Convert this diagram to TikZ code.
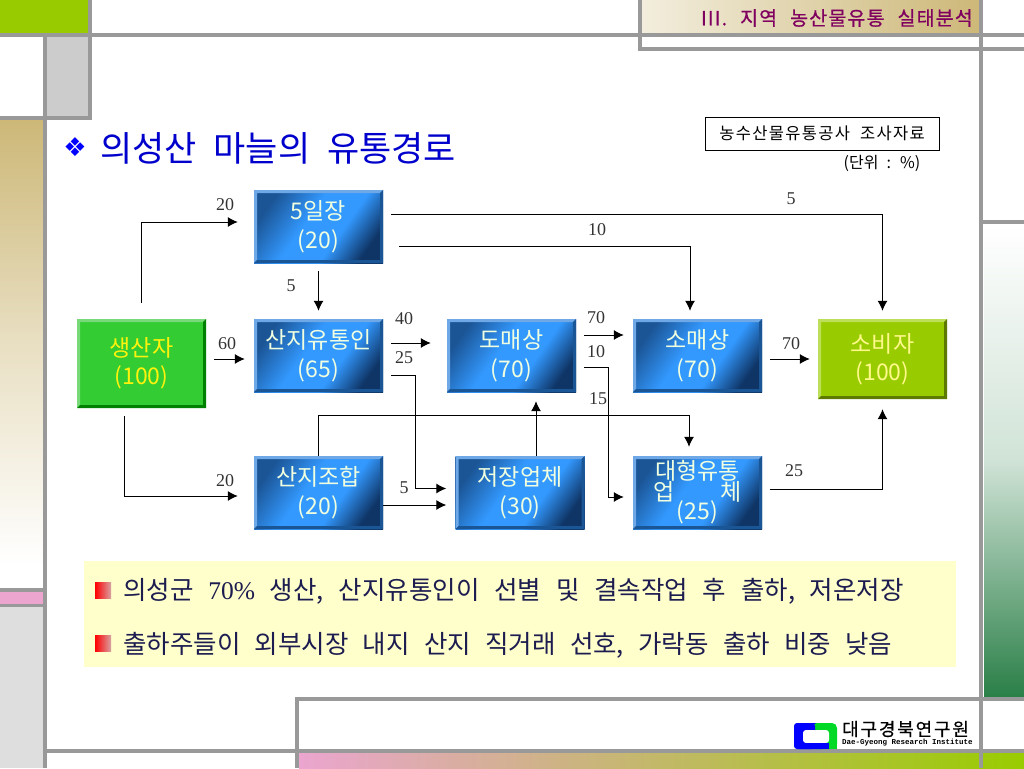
\documentclass[tikz,border=0pt]{standalone}
\usepackage{fontspec}
\setmainfont{Noto Sans CJK KR}
\newfontfamily\numfont{Liberation Serif}
\newfontfamily\glyphfont{DejaVu Sans}
\newfontfamily\instfont{Liberation Mono}
\usetikzlibrary{arrows.meta}
\definecolor{framegray}{HTML}{999999}
\definecolor{leafgreen}{HTML}{99CC00}
\definecolor{tanstrip}{HTML}{CDB878}
\definecolor{pinkstrip}{HTML}{EBA5CF}
\definecolor{forest}{HTML}{2A7F47}
\definecolor{notepad}{HTML}{FFFFCC}
\definecolor{notetext}{HTML}{1C1C50}
\definecolor{stagetl}{HTML}{1B5596}
\definecolor{stagemid}{HTML}{3399FF}
\definecolor{stagebr}{HTML}{0F3566}
\definecolor{stagelight}{HTML}{6FA8E6}
\definecolor{stagedark}{HTML}{1A5596}
\definecolor{stagetext}{HTML}{EFFFE0}
\pgfdeclarehorizontalshading{stageshade}{100bp}{color(0bp)=(stagetl); color(25bp)=(stagetl); color(44bp)=(stagemid); color(60bp)=(stagemid); color(75bp)=(stagebr); color(100bp)=(stagebr)}
\tikzset{
  frameline/.style={draw=framegray,line width=3.4pt},
  flow/.style={draw=black,line width=1pt,-{Latex[length=10pt,width=10pt]}},
  numlabel/.style={font=\numfont\fontsize{18}{18}\selectfont,text=black!80,inner sep=0pt,yshift=-1pt},
  bevel/.style 2 args={path picture={
    \def\nw{path picture bounding box.north west}\def\ne{path picture bounding box.north east}
    \def\sw{path picture bounding box.south west}\def\se{path picture bounding box.south east}
    \fill[#1] (\sw) -- (\nw) -- (\ne) -- ([shift={(-3pt,-3pt)}]\ne) -- ([shift={(3pt,-3pt)}]\nw) -- ([shift={(3pt,3pt)}]\sw) -- cycle;
    \fill[#2] (\sw) -- (\se) -- (\ne) -- ([shift={(-3pt,-3pt)}]\ne) -- ([shift={(-3pt,3pt)}]\se) -- ([shift={(3pt,3pt)}]\sw) -- cycle;}},
  stagebox/.style={minimum width=129pt,minimum height=73pt,inner sep=0pt,align=center,
    font=\fontsize{23}{29}\selectfont,text=stagetext,execute at begin node={\rule{0pt}{28pt}},
    shade,shading=stageshade,shading angle=-35,bevel={stagelight}{stagedark}},
  endbox/.style={minimum width=129pt,inner sep=0pt,align=center,font=\fontsize{23}{28}\selectfont,
    execute at begin node={\rule{0pt}{28pt}}},
}
\begin{document}
\begin{tikzpicture}[x=1pt,y=-1pt]
\useasboundingbox (0,0) rectangle (1024,768);
% frame
\fill[leafgreen] (0,0) rectangle (88,33);
\fill[black!20] (47,37) rectangle (88,116);
\shade[top color=tanstrip,bottom color=white,middle color=tanstrip!45!white] (0,120) rectangle (43,566);
\fill[pinkstrip] (0,592) rectangle (43,604);
\fill[black!13] (0,607) rectangle (43,768);
\shade[top color=white,bottom color=forest,middle color=forest!22!white] (984,224) rectangle (1024,697);
\shade[left color=pinkstrip,right color=leafgreen] (299,753) rectangle (1024,768);
\shade[left color=tanstrip!25!white,right color=tanstrip] (642,0) rectangle (979,33);
\draw[frameline] (0,35) -- (1024,35);
\draw[frameline] (90,0) -- (90,118) -- (0,118);
\draw[frameline] (45,35) -- (45,768);
\draw[frameline] (0,590) -- (45,590) (0,605.5) -- (45,605.5);
\draw[frameline] (640,0) -- (640,49) -- (1024,49);
\draw[frameline] (981,0) -- (981,768);
\draw[frameline] (981,222) -- (1024,222);
\draw[frameline] (1024,699) -- (297,699) -- (297,768);
\draw[frameline] (45,751) -- (1024,751);
\node[anchor=east,inner sep=0pt,text={rgb,255:red,128;green,0;blue,96}] (headline) at (973,18)
  {\fontsize{19.5}{19.5}\selectfont\addfontfeature{LetterSpace=6,FakeBold=0.6}\spaceskip=13pt III. 지역 농산물유통 실태분석};
% title and source
\node[inner sep=0pt,text=blue] (titlemark) at (75,147) {\glyphfont\fontsize{26}{26}\selectfont ❖};
\node[anchor=west,inner sep=0pt,text=blue!80!black] (title) at (100,148) {\fontsize{35}{35}\selectfont\spaceskip=17pt 의성산 마늘의 유통경로};
\node[draw=black,line width=.8pt,minimum width=234pt,minimum height=33pt,inner sep=0pt] (source) at (822,133.5)
  {\fontsize{16.5}{16.5}\selectfont\addfontfeature{LetterSpace=8}\spaceskip=10pt 농수산물유통공사 조사자료};
\node[inner sep=0pt] (unit) at (882,163) {\fontsize{16}{16}\selectfont\spaceskip=8pt (단위 : \%)};
% stages
\node[stagebox] (iljang) at (318.5,226.5) {5일장\\(20)};
\node[stagebox] (sanji) at (318.5,355.5) {산지유통인\\(65)};
\node[stagebox] (domae) at (511.5,355.5) {도매상\\(70)};
\node[stagebox] (somae) at (697.5,355.5) {소매상\\(70)};
\node[stagebox] (johap) at (318.5,492.5) {산지조합\\(20)};
\node[stagebox] (jeojang) at (520,492.5) {저장업체\\(30)};
\node[stagebox,font=\fontsize{23}{21}\selectfont] (daehyeong) at (697.5,492.5) {대형유통\\\makebox[88pt][s]{업\hfill 체}\\[-2pt](25)};
\node[endbox,minimum height=89pt,fill={rgb,255:red,51;green,204;blue,51},text=yellow!95!white,bevel={green!45!white!85!black}{green!50!black}] (saengsan) at (141.5,363.5) {생산자\\(100)};
\node[endbox,minimum height=80pt,fill=leafgreen,text=yellow!45!white,bevel={leafgreen!65!white}{leafgreen!60!black}] (sobija) at (882.5,359) {소비자\\(100)};
% flows
\draw[flow] ([shift={(0pt,16pt)}]saengsan.north) |- ([shift={(-16pt,4.5pt)}]iljang.west);
\draw[flow] ([shift={(-17pt,-8pt)}]saengsan.south) |- ([shift={(-16pt,-3.5pt)}]johap.west);
\draw[flow] ([shift={(8pt,4.5pt)}]saengsan.east) -- ([shift={(-9pt,-3.5pt)}]sanji.west);
\draw[flow,shorten <=8pt,shorten >=8pt] (iljang.south) -- (sanji.north);
\draw[flow] ([shift={(8pt,12.5pt)}]iljang.east) -| ([shift={(0pt,8pt)}]sobija.north);
\draw[flow] ([shift={(16pt,-19.5pt)}]iljang.east) -| ([shift={(-7.5pt,8pt)}]somae.north);
\draw[flow] ([shift={(8pt,12.5pt)}]sanji.east) -- ([shift={(-16pt,12.5pt)}]domae.west);
\draw[flow] ([shift={(8pt,-20pt)}]sanji.east) -- ++(24,0) |- ([shift={(-9pt,4pt)}]jeojang.west);
\draw[flow] ([shift={(0pt,-12.5pt)}]johap.east) -- ([shift={(-9pt,-12.5pt)}]jeojang.west);
\draw[flow] (johap.north) -- ++(0,-40) -| ([shift={(-8.5pt,9pt)}]daehyeong.north);
\draw[flow] ([shift={(16pt,0pt)}]jeojang.north) -- ([shift={(24.5pt,-9pt)}]domae.south);
\draw[flow] ([shift={(8pt,20.5pt)}]domae.east) -- ([shift={(-9pt,20.5pt)}]somae.west);
\draw[flow] ([shift={(8pt,-11.5pt)}]domae.east) -- ++(24,0) |- ([shift={(-9pt,-4.5pt)}]daehyeong.west);
\draw[flow] ([shift={(8pt,-3.5pt)}]somae.east) -- ([shift={(-8pt,0pt)}]sobija.west);
\draw[flow] ([shift={(8pt,3.5pt)}]daehyeong.east) -| ([shift={(0pt,-10pt)}]sobija.south);
% flow shares
\node[numlabel] (n1) at (225,204) {20};
\node[numlabel] (n2) at (291,285) {5};
\node[numlabel] (n3) at (227,343) {60};
\node[numlabel] (n4) at (404,318) {40};
\node[numlabel] (n5) at (404,357) {25};
\node[numlabel] (n6) at (596,317) {70};
\node[numlabel] (n7) at (596,351) {10};
\node[numlabel] (n8) at (598,398) {15};
\node[numlabel] (n9) at (791,343) {70};
\node[numlabel] (n10) at (794,470) {25};
\node[numlabel] (n11) at (225,480) {20};
\node[numlabel] (n12) at (404,487) {5};
\node[numlabel] (n13) at (791,198) {5};
\node[numlabel] (n14) at (597,229) {10};
% notes
\fill[notepad] (84,561) rectangle (956,667);
\shade[left color=red,right color=red!25!white!85!black] (95,582) rectangle (111,598);
\shade[left color=red,right color=red!25!white!85!black] (95,635) rectangle (111,651);
\node[anchor=west,inner sep=0pt,text=notetext] (note1) at (123,591)
  {\fontsize{25.5}{25.5}\selectfont\spaceskip=14.8pt 의성군 {\numfont 70\%} 생산, 산지유통인이 선별 및 결속작업 후 출하, 저온저장};
\node[anchor=west,inner sep=0pt,text=notetext] (note2) at (123,645)
  {\fontsize{25.5}{25.5}\selectfont\spaceskip=14.3pt 출하주들이 외부시장 내지 산지 직거래 선호, 가락동 출하 비중 낮음};
% logo
\fill[blue,rounded corners=5pt] (794,723) rectangle (828,749);
\fill[green!85!blue,rounded corners=5pt] (812,723) rectangle (837,749);
\fill[blue,rounded corners=3pt] (794,723) -- (815,723) -- (815,749) -- (794,749) -- cycle;
\fill[white,rounded corners=3pt] (803,730) rectangle (829,743);
\fill[white] (812,743) rectangle (829,749);
\fill[blue] (803,743) rectangle (829,749);
\fill[green!85!blue] (829,743) rectangle (837,749);
\node[anchor=west,inner sep=0pt] (instkr) at (842,729) {\fontsize{18}{18}\selectfont\addfontfeature{LetterSpace=10,FakeBold=0.5}대구경북연구원};
\node[anchor=west,inner sep=0pt] (insten) at (842,743) {\instfont\bfseries\fontsize{7.5}{8}\selectfont Dae-Gyeong Research Institute};
\end{tikzpicture}
\end{document}
